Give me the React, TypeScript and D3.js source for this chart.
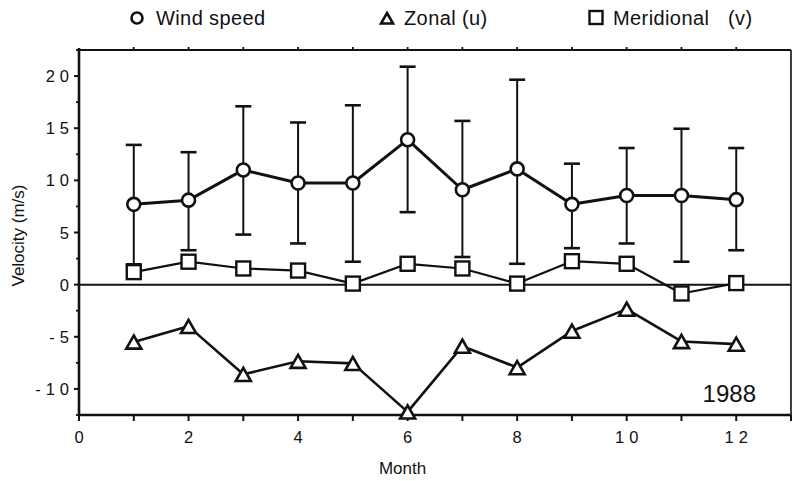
import React from 'react'
import * as d3 from 'd3'

// monthly means, 1988
const months = [1, 2, 3, 4, 5, 6, 7, 8, 9, 10, 11, 12]
const windSpeed = [7.7, 8.1, 11.0, 9.75, 9.75, 13.9, 9.1, 11.1, 7.7, 8.55, 8.55, 8.15]
const windUpper = [13.4, 12.7, 17.1, 15.55, 17.2, 20.9, 15.7, 19.65, 11.6, 13.1, 14.95, 13.1]
const windLower = [1.95, 3.3, 4.8, 3.95, 2.2, 6.95, 2.65, 2.0, 3.5, 3.95, 2.2, 3.3]
const zonal = [-5.5, -4.0, -8.6, -7.35, -7.55, -12.2, -5.9, -7.95, -4.45, -2.35, -5.45, -5.7]
const meridional = [1.2, 2.2, 1.55, 1.35, 0.1, 2.0, 1.55, 0.1, 2.25, 2.0, -0.85, 0.15]

const xTicks = d3.range(0, 14, 1)
const xLabels = [0, 2, 4, 6, 8, 10, 12]
const yMajor = [-10, -5, 0, 5, 10, 15, 20]
const yMinor = [-12.5, -7.5, -2.5, 2.5, 7.5, 12.5, 17.5, 22.5]

const W = 792, H = 481
const L = 79, R = 791, T = 50, B = 415
const font = '"Liberation Sans", Arial, Helvetica, sans-serif'

const tri = (cx: number, cy: number, s = 7.5) =>
  `M${cx},${cy - s}L${cx + s},${cy + s * 0.75}L${cx - s},${cy + s * 0.75}Z`

export default function App() {
  const x = d3.scaleLinear().domain([0, 13]).range([L, R])
  const y = d3.scaleLinear().domain([-12.5, 22.5]).range([B, T])
  const line = d3.line<number>().x((_, i) => x(months[i])).y(d => y(d))

  return (
    <svg width={W} height={H} viewBox={`0 0 ${W} ${H}`}
      style={{ position: 'absolute', left: 0, top: 0, background: '#fff' }}
      fontFamily={font}>
      {/* legend */}
      <g fontSize={20} fill="#111" letterSpacing={0.4}>
        <circle cx={137} cy={18} r={5.5} fill="#fff" stroke="#111" strokeWidth={2.6} />
        <text x={156} y={25}>Wind speed</text>
        <path d={tri(387, 19, 6)} fill="#fff" stroke="#111" strokeWidth={2.6} />
        <text x={404} y={25}>Zonal (u)</text>
        <rect x={589.5} y={11} width={13} height={13} fill="#fff" stroke="#111" strokeWidth={2.4} />
        <text x={613} y={25}>Meridional</text>
        <text x={728} y={25}>(v)</text>
      </g>

      {/* frame */}
      <g stroke="#111" fill="none">
        <line x1={L} x2={L} y1={T - 2} y2={B + 1} strokeWidth={2.6} />
        <line x1={L} x2={R} y1={B} y2={B} strokeWidth={2.6} />
        <line x1={L} x2={R} y1={T} y2={T} strokeWidth={2} />
        <line x1={R} x2={R} y1={T} y2={B} strokeWidth={1.6} />
        <line x1={L} x2={R} y1={y(0)} y2={y(0)} strokeWidth={2} />
        {xTicks.map(t => (
          <g key={t}>
            <line x1={x(t)} x2={x(t)} y1={B} y2={B + 6} strokeWidth={2} />
            {t > 0 && t < 13 && <line x1={x(t)} x2={x(t)} y1={T} y2={T - 3} strokeWidth={1.8} />}
          </g>
        ))}
        {yMajor.map(t => <line key={t} x1={L - 5} x2={L} y1={y(t)} y2={y(t)} strokeWidth={2} />)}
        {yMinor.map(t => <line key={t} x1={L - 3} x2={L} y1={y(t)} y2={y(t)} strokeWidth={1.8} />)}
      </g>

      {/* tick labels */}
      <g fontSize={16.5} fill="#111" letterSpacing={5}>
        {xLabels.map(t => (
          <text key={t} x={x(t) + 2.5} y={443} textAnchor="middle">{t}</text>
        ))}
        {yMajor.map(t => (
          <text key={t} x={L - 5} y={y(t) + 6} textAnchor="end">{t}</text>
        ))}
      </g>
      <text x={(L + 736) / 2 - 5} y={474} fontSize={17} textAnchor="middle" fill="#111">Month</text>
      <text transform={`translate(24,${(T + B) / 2 + 3}) rotate(-90)`} fontSize={17}
        textAnchor="middle" fill="#111">Velocity (m/s)</text>
      <text x={756} y={402} fontSize={24} textAnchor="end" fill="#111">1988</text>

      {/* error bars */}
      <g stroke="#111" strokeWidth={2}>
        {months.map((m, i) => (
          <g key={m}>
            <line x1={x(m)} x2={x(m)} y1={y(windUpper[i])} y2={y(windLower[i])} />
            <line x1={x(m) - 8} x2={x(m) + 8} y1={y(windUpper[i])} y2={y(windUpper[i])} strokeWidth={2.6} />
            <line x1={x(m) - 8} x2={x(m) + 8} y1={y(windLower[i])} y2={y(windLower[i])} strokeWidth={2.6} />
          </g>
        ))}
      </g>

      {/* series lines */}
      <g fill="none" stroke="#111" strokeLinejoin="round">
        <path d={line(windSpeed) ?? ''} strokeWidth={3} />
        <path d={line(zonal) ?? ''} strokeWidth={2.6} />
        <path d={line(meridional) ?? ''} strokeWidth={2.2} />
      </g>

      {/* markers */}
      <g fill="#fff" stroke="#111">
        {months.map((m, i) => (
          <g key={m}>
            <circle cx={x(m)} cy={y(windSpeed[i])} r={6.5} strokeWidth={2.6} />
            <path d={tri(x(m), y(zonal[i]) + 1)} strokeWidth={2.6} />
            <rect x={x(m) - 7} y={y(meridional[i]) - 7} width={14} height={14} strokeWidth={2.4} />
          </g>
        ))}
      </g>
    </svg>
  )
}
